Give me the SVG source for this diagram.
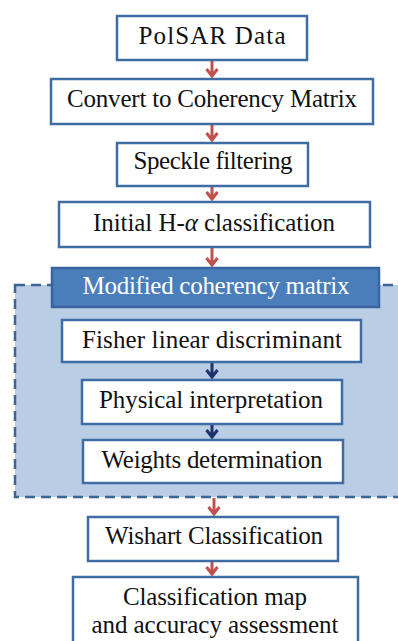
<svg xmlns="http://www.w3.org/2000/svg" width="398" height="641" viewBox="0 0 398 641">
<style>
.box{fill:#ffffff;stroke:#3f6da3;stroke-width:2.5}
.t{font-family:"Liberation Serif","Times New Roman",serif;font-size:25px;fill:#111111;text-anchor:middle}
.red{stroke:#c0504d;stroke-width:3;fill:none;stroke-linejoin:miter}
.blue{stroke:#1c336b;stroke-width:3;fill:none;stroke-linejoin:miter}
</style>
<rect id="container" x="15" y="285" width="392" height="212" fill="#b9cde5" stroke="#3d6696" stroke-width="2.5" stroke-dasharray="10,6"/>
<g id="connectors">
<path class="red" d="M212,61 V77 M206.5,69 L212,76 L217.5,69"/>
<path class="red" d="M212,125 V141 M206.5,133 L212,140 L217.5,133"/>
<path class="red" d="M212,187 V200 M206.5,192 L212,199 L217.5,192"/>
<path class="red" d="M212,248 V266 M206.5,258 L212,265 L217.5,258"/>
<path class="blue" d="M212,363 V378 M206.5,370 L212,377 L217.5,370"/>
<path class="blue" d="M212,425 V438 M206.5,430 L212,437 L217.5,430"/>
<path class="red" d="M214,498 V515 M208.5,507 L214,514 L219.5,507"/>
<path class="red" d="M212,562 V575 M206.5,567 L212,574 L217.5,567"/>
</g>
<g id="polsar"><rect class="box" x="117" y="16" width="190" height="44"/><text class="t" x="212" y="44" textLength="147" lengthAdjust="spacing">PolSAR Data</text></g>
<g id="convert"><rect class="box" x="51" y="79" width="322" height="45"/><text class="t" x="212" y="107" textLength="290" lengthAdjust="spacing">Convert to Coherency Matrix</text></g>
<g id="speckle"><rect class="box" x="117" y="143" width="191" height="43"/><text class="t" x="213" y="169" textLength="159" lengthAdjust="spacing">Speckle filtering</text></g>
<g id="initial"><rect class="box" x="59" y="202" width="311" height="45"/><text class="t" x="214" y="231" textLength="242" lengthAdjust="spacing">Initial H-<tspan font-style="italic">α</tspan> classification</text></g>
<g id="modified"><rect x="52" y="268" width="327" height="39" fill="#4a7ebb" stroke="#3a64a0" stroke-width="2.5"/><text class="t" x="216" y="294" textLength="267" lengthAdjust="spacing" style="fill:#ffffff">Modified coherency matrix</text></g>
<g id="fisher"><rect class="box" x="62" y="320" width="299" height="42"/><text class="t" x="212" y="348" textLength="260" lengthAdjust="spacing">Fisher linear discriminant</text></g>
<g id="physical"><rect class="box" x="82" y="380" width="260" height="44"/><text class="t" x="211" y="408" textLength="224" lengthAdjust="spacing">Physical interpretation</text></g>
<g id="weights"><rect class="box" x="83" y="440" width="260" height="43"/><text class="t" x="212" y="468" textLength="221" lengthAdjust="spacing">Weights determination</text></g>
<g id="wishart"><rect class="box" x="88" y="517" width="250" height="44"/><text class="t" x="214" y="544" textLength="218" lengthAdjust="spacing">Wishart Classification</text></g>
<g id="classmap"><rect class="box" x="73" y="577" width="285" height="80"/><text class="t" x="215" y="605" textLength="184" lengthAdjust="spacing">Classification map</text><text class="t" x="215" y="633" textLength="247" lengthAdjust="spacing">and accuracy assessment</text></g>
</svg>
